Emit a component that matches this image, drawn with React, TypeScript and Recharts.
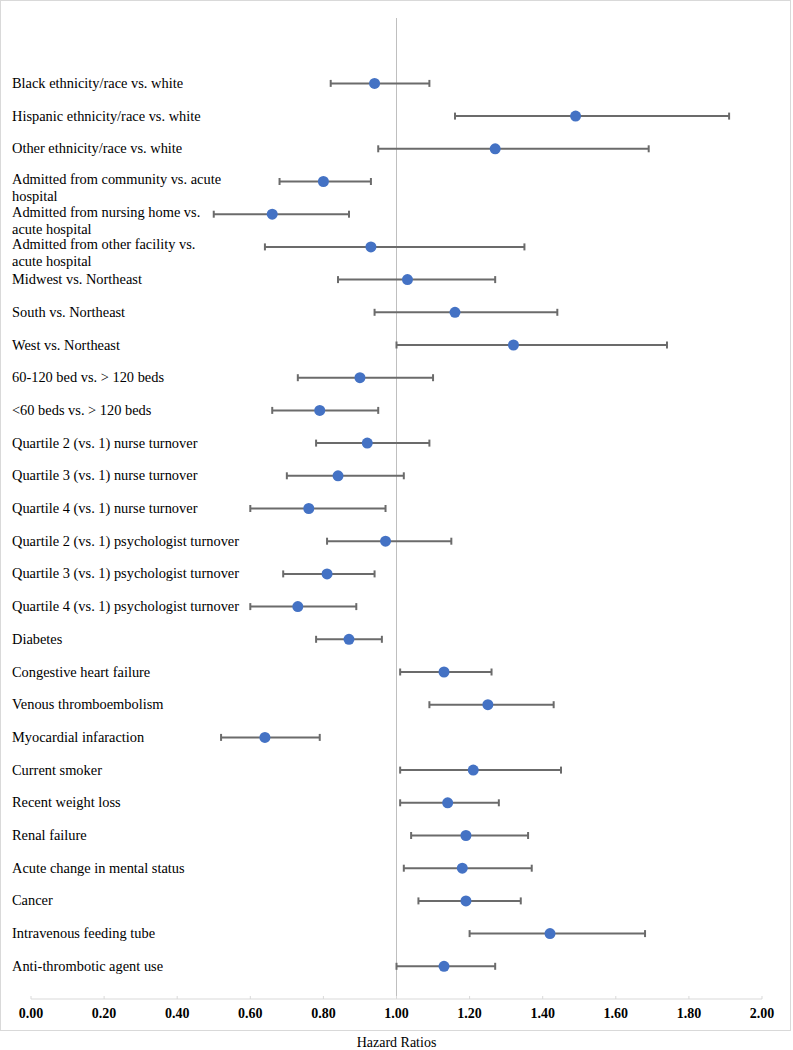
import React from 'react';
import { ScatterChart, Scatter, XAxis, YAxis, ErrorBar, ReferenceLine } from 'recharts';

const labels = [
  'Black ethnicity/race vs. white',
  'Hispanic ethnicity/race vs. white',
  'Other ethnicity/race vs. white',
  'Admitted from community vs. acute\nhospital',
  'Admitted from nursing home vs.\nacute hospital',
  'Admitted from other facility vs.\nacute hospital',
  'Midwest vs. Northeast',
  'South vs. Northeast',
  'West vs. Northeast',
  '60-120 bed vs. > 120 beds',
  '<60 beds vs. > 120 beds',
  'Quartile 2 (vs. 1) nurse turnover',
  'Quartile 3 (vs. 1) nurse turnover',
  'Quartile 4 (vs. 1) nurse turnover',
  'Quartile 2 (vs. 1) psychologist turnover',
  'Quartile 3 (vs. 1) psychologist turnover',
  'Quartile 4 (vs. 1) psychologist turnover',
  'Diabetes',
  'Congestive heart failure',
  'Venous thromboembolism',
  'Myocardial infaraction',
  'Current smoker',
  'Recent weight loss',
  'Renal failure',
  'Acute change in mental status',
  'Cancer',
  'Intravenous feeding tube',
  'Anti-thrombotic agent use',
];

const hazardRatio = [
  0.94, 1.49, 1.27, 0.8, 0.66, 0.93, 1.03, 1.16, 1.32, 0.9, 0.79, 0.92, 0.84, 0.76,
  0.97, 0.81, 0.73, 0.87, 1.13, 1.25, 0.64, 1.21, 1.14, 1.19, 1.18, 1.19, 1.42, 1.13,
];

const lowerCI = [
  0.82, 1.16, 0.95, 0.68, 0.5, 0.64, 0.84, 0.94, 1.0, 0.73, 0.66, 0.78, 0.7, 0.6,
  0.81, 0.69, 0.6, 0.78, 1.01, 1.09, 0.52, 1.01, 1.01, 1.04, 1.02, 1.06, 1.2, 1.0,
];

const upperCI = [
  1.09, 1.91, 1.69, 0.93, 0.87, 1.35, 1.27, 1.44, 1.74, 1.1, 0.95, 1.09, 1.02, 0.97,
  1.15, 0.94, 0.89, 0.96, 1.26, 1.43, 0.79, 1.45, 1.28, 1.36, 1.37, 1.34, 1.68, 1.27,
];

const xTicks = [0, 0.2, 0.4, 0.6, 0.8, 1.0, 1.2, 1.4, 1.6, 1.8, 2.0];

// rows sit at y = 28 (top) .. 1 (bottom) on a 0..30 axis
const rowCount = labels.length;
const data = labels.map((label, i) => ({
  label,
  x: hazardRatio[i],
  y: rowCount - i,
  err: [hazardRatio[i] - lowerCI[i], upperCI[i] - hazardRatio[i]],
}));
const rowTicks = data.map(d => d.y);

const font = '"Liberation Serif", "Times New Roman", serif';

const RowLabel = (props: any) => {
  const { y, payload } = props;
  const row = data.find(d => d.y === payload.value);
  if (!row) return null;
  const lines = row.label.split('\n');
  const top = lines.length > 1 ? y - 2 : y;
  return (
    <text x={12} y={top} style={{ fontFamily: font }} fontSize={14.4} fill="#000" textAnchor="start">
      {lines.map((ln: string, i: number) => (
        <tspan key={i} x={12} dy={i === 0 ? 4.5 : 17}>{ln}</tspan>
      ))}
    </text>
  );
};

const XTick = (props: any) => {
  const { x, payload } = props;
  return (
    <g>
      <line x1={x} x2={x} y1={996} y2={999} stroke="#d9d9d9" />
      <text
        x={x}
        y={1018}
        textAnchor="middle"
        style={{ fontFamily: font, fontWeight: 'bold' }}
        fontSize={14}
        fill="#000"
      >
        {Number(payload.value).toFixed(2)}
      </text>
    </g>
  );
};

const Dot = (props: any) => {
  const { cx, cy } = props;
  return <circle cx={cx} cy={cy} r={5.5} fill="#4472C4" />;
};

export default function App() {
  return (
    <div
      style={{
        position: 'absolute',
        left: 0,
        top: 0,
        width: 793,
        height: 1050,
        background: '#fff',
        fontFamily: font,
      }}
    >
      <div
        style={{
          position: 'absolute',
          left: 0,
          top: 0,
          width: 789,
          height: 1029,
          border: '1px solid #d9d9d9',
        }}
      />
      <ScatterChart
        width={793}
        height={1050}
        margin={{ top: 18, right: 31, bottom: 0, left: 30 }}
        style={{ position: 'absolute', left: 0, top: 0, fontFamily: font }}
      >
        <XAxis
          type="number"
          dataKey="x"
          domain={[0, 2]}
          ticks={xTicks}
          interval={0}
          height={51}
          stroke="#d9d9d9"
          tickLine={false}
          tick={XTick}
          label={{
            value: 'Hazard Ratios',
            position: 'insideBottom',
            offset: 3,
            fill: '#000',
            fontSize: 14,
            style: { fontFamily: font },
          }}
        />
        <YAxis
          type="number"
          dataKey="y"
          domain={[0, 30]}
          ticks={rowTicks}
          interval={0}
          width={1}
          axisLine={false}
          tickLine={false}
          tick={RowLabel}
        />
        <ReferenceLine x={1} stroke="#bfbfbf" strokeWidth={1} />
        <Scatter data={data} shape={<Dot />} isAnimationActive={false}>
          <ErrorBar dataKey="err" direction="x" width={3.5} stroke="#6b6b6b" strokeWidth={2} />
        </Scatter>
      </ScatterChart>
    </div>
  );
}
